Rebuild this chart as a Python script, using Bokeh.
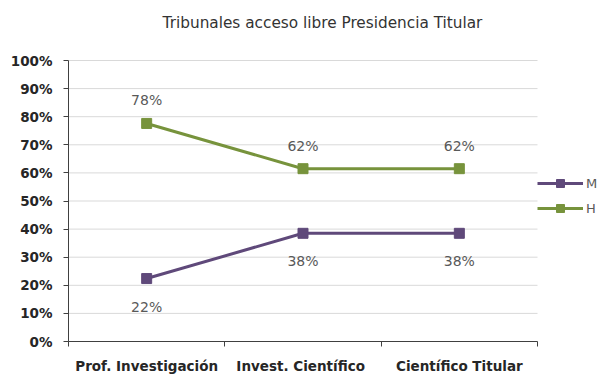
from bokeh.plotting import figure
from bokeh.models import (ColumnDataSource, FixedTicker, Legend, LegendItem, Label)
from bokeh.core.properties import value
from bokeh.embed import file_html
from bokeh.resources import INLINE

categories = ["Prof. Investigación", "Invest.  Científico", "Científico Titular"]
m_values = [0.224, 0.385, 0.385]
h_values = [0.776, 0.615, 0.615]
y_ticks = [0.0, 0.1, 0.2, 0.3, 0.4, 0.5, 0.6, 0.7, 0.8, 0.9, 1.0]
y_tick_labels = ["0%", "10%", "20%", "30%", "40%", "50%", "60%", "70%", "80%", "90%", "100%"]
title_text = "Tribunales acceso libre Presidencia Titular"

FONT = "DejaVu Sans"
M_COLOR = "#5f497a"
H_COLOR = "#77933c"
LABEL_COLOR = "#595959"
AXIS_TEXT = "#262626"

n = len(categories)
xs = [i + 0.5 for i in range(n)]
# frame extends past the plot area to leave room for legend and title
# (plot area 469 x 281 px inside a 532 x 336 px frame)
x_end = n * 532 / 469
y_end = 336 / 281

p = figure(width=600, height=376, output_backend="svg", toolbar_location=None,
           x_range=(0, x_end), y_range=(0, y_end),
           min_border_left=68, min_border_right=0, min_border_top=5, min_border_bottom=35)
p.outline_line_color = None
p.background_fill_color = "white"
p.border_fill_color = "white"

# gridlines limited to the plot area
p.xgrid.grid_line_color = None
p.ygrid.grid_line_color = None
p.segment(x0=[0] * len(y_ticks), x1=[n] * len(y_ticks), y0=y_ticks, y1=y_ticks,
          line_color="#d9d9d9", line_width=1)

# axes
p.xaxis.bounds = (0, n)
p.xaxis.ticker = FixedTicker(ticks=xs, minor_ticks=list(range(n + 1)))
p.xaxis.major_label_overrides = {x: c for x, c in zip(xs, categories)}
p.xaxis.major_tick_line_color = None
p.xaxis.major_tick_out = 0
p.xaxis.major_tick_in = 0
p.xaxis.minor_tick_out = 5
p.xaxis.minor_tick_in = 0
p.xaxis.minor_tick_line_color = "#404040"
p.xaxis.axis_line_color = "#404040"
p.xaxis.major_label_text_font = FONT
p.xaxis.major_label_text_font_style = "bold"
p.xaxis.major_label_text_font_size = "13.5px"
p.xaxis.major_label_text_color = AXIS_TEXT
p.xaxis.major_label_standoff = 11

p.yaxis.bounds = (0, 1)
p.yaxis.ticker = FixedTicker(ticks=y_ticks)
p.yaxis.major_label_overrides = {t: l for t, l in zip(y_ticks, y_tick_labels)}
p.yaxis.major_tick_out = 5
p.yaxis.major_tick_in = 0
p.yaxis.minor_tick_line_color = None
p.yaxis.major_tick_line_color = "#404040"
p.yaxis.axis_line_color = "#404040"
p.yaxis.major_label_text_font = FONT
p.yaxis.major_label_text_font_style = "bold"
p.yaxis.major_label_text_font_size = "13.5px"
p.yaxis.major_label_text_color = AXIS_TEXT
p.yaxis.major_label_standoff = 11

src = ColumnDataSource(dict(
    x=xs, m=m_values, h=h_values,
    m_lab=[f"{round(v*100)}%" for v in m_values],
    h_lab=[f"{round(v*100)}%" for v in h_values],
))

lm = p.line("x", "m", source=src, line_color=M_COLOR, line_width=3)
sm = p.scatter("x", "m", source=src, marker="square", size=10, fill_color=M_COLOR, line_color=M_COLOR)
lh = p.line("x", "h", source=src, line_color=H_COLOR, line_width=3)
sh = p.scatter("x", "h", source=src, marker="square", size=10, fill_color=H_COLOR, line_color=H_COLOR)

p.text("x", "h", text="h_lab", source=src, y_offset=-23, text_align="center", text_baseline="middle",
       text_font=value(FONT), text_font_size="14px", text_color=LABEL_COLOR)
p.text("x", "m", text="m_lab", source=src, y_offset=28, text_align="center", text_baseline="middle",
       text_font=value(FONT), text_font_size="14px", text_color=LABEL_COLOR)

title = Label(x=n * 254 / 469, y=319 / 281, text=title_text, text_align="center", text_baseline="middle",
              text_font=FONT, text_font_size="15.3px", text_color="#333333")
p.add_layout(title)

legend = Legend(items=[LegendItem(label="M", renderers=[lm, sm]),
                       LegendItem(label="H", renderers=[lh, sh])],
                location=(469, 123), padding=0, margin=0, spacing=5,
                glyph_width=46, glyph_height=20, label_standoff=3,
                label_text_font=FONT, label_text_font_size="13px", label_text_color=LABEL_COLOR,
                border_line_color=None, background_fill_alpha=0)
p.add_layout(legend, "center")

open("out.html", "w").write(file_html(p, INLINE))
